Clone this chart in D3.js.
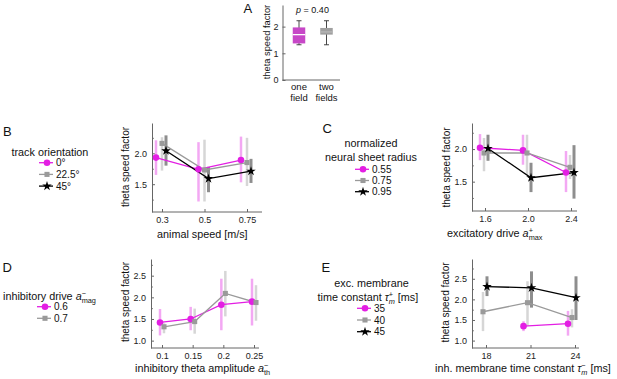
<!DOCTYPE html>
<html>
<head>
<meta charset="utf-8">
<script src="https://cdn.jsdelivr.net/npm/d3@7"></script>
<style>
body { margin: 0; background: #fff; }
text { font-family: "Liberation Sans", Arial, sans-serif; }
</style>
</head>
<body>
<script>
// ---- data ----
// A: box plots
const aCats = ["one field", "two fields"]
const aBoxLo = [1.32, 1.32]
const aQ1 = [1.37, 1.70]
const aMed = [1.70, 1.80]
const aQ3 = [1.97, 1.95]
const aBoxHi = [2.22, 2.22]

// B: track orientation
const bCats = ["0.3", "0.5", "0.75"]
const bNames = ["0°", "22.5°", "45°"]
const bMean0 = [1.93, 1.74, 1.89], bLo0 = [1.65, 1.22, 1.53], bHi0 = [2.21, 2.18, 2.27]
const bMean22 = [2.16, 1.73, 1.85], bLo22 = [1.72, 1.22, 1.47], bHi22 = [2.26, 2.22, 2.25]
const bMean45 = [2.04, 1.59, 1.71], bLo45 = [1.80, 1.37, 1.52], bHi45 = [2.29, 1.78, 1.91]

// C: neural sheet radius
const cCats = ["1.6", "2.0", "2.4"]
const cNames = ["0.55", "0.75", "0.95"]
const cMean55 = [2.02, 1.98, 1.64], cLo55 = [1.83, 1.76, 1.34], cHi55 = [2.23, 2.22, 1.97]
const cMean75 = [1.94, 1.94, 1.72], cLo75 = [1.66, 1.60, 1.54], cHi75 = [2.17, 2.22, 1.91]
const cMean95 = [2.01, 1.56, 1.64], cLo95 = [1.82, 1.34, 1.24], cHi95 = [2.22, 1.79, 2.06]

// D: inhibitory drive
const dCats = ["0.1", "0.15", "0.2", "0.25"]
const dNames = ["0.6", "0.7"]
const dMean6 = [1.42, 1.50, 1.83, 1.90], dLo6 = [1.12, 1.24, 1.24, 1.35], dHi6 = [1.73, 1.78, 2.43, 2.43]
const dMean7 = [1.32, 1.44, 2.09, 1.88], dLo7 = [1.17, 1.16, 1.56, 1.46], dHi7 = [1.40, 1.74, 2.61, 2.28]

// E: exc. membrane time constant
const eCats = ["18", "21", "24"]
const eNames = ["35", "40", "45"]
const eMean35 = [null, 1.35, 1.41], eLo35 = [null, 1.23, 1.12], eHi35 = [null, 1.47, 1.72]
const eMean40 = [1.70, 1.92, 1.56], eLo40 = [1.23, 1.36, 1.32], eHi40 = [2.18, 2.44, 1.76]
const eMean45 = [2.31, 2.28, 2.04], eLo45 = [2.08, 1.80, 1.50], eHi45 = [2.56, 2.68, 2.56]

// ---- styles ----
const MAG = "#e31ee3", MAGBAR = "#f3a8f3"
const GRY = "#9a9a9a", GRYBAR = "#d6d6d6"
const BLK = "#000", BLKBAR = "#8e8e8e"
const AX = "#666"

const svg = d3.select("body").append("svg")
  .attr("width", 617).attr("height", 379)

const shapes = { circle: d3.symbolCircle, square: d3.symbolSquare, star: d3.symbolStar }
const sizes = { circle: 34, square: 26, star: 28 }

// rich text helper: parts [{t, i, sup, sub}]
function rich(g, x, y, parts, size, anchor) {
  const t = g.append("text").attr("x", x).attr("y", y)
    .attr("font-size", size).attr("fill", "#111")
    .attr("text-anchor", anchor || "start")
  let shift = 0, lastSupW = 0
  parts.forEach(p => {
    const s = t.append("tspan").text(p.t)
    if (p.i) s.attr("font-style", "italic")
    let target = 0
    if (p.sup) { target = -0.38 * size; s.attr("font-size", size * 0.68) }
    if (p.sub) { target = 0.32 * size; s.attr("font-size", size * 0.68) }
    if (target !== shift) { s.attr("dy", target - shift); shift = target }
    if (p.sub && lastSupW) s.attr("dx", -lastSupW)
    lastSupW = p.sup ? s.node().getComputedTextLength() : 0
  })
  return t
}

function letter(x, y, l) {
  svg.append("text").attr("x", x).attr("y", y).attr("font-size", 13)
    .attr("fill", "#111").text(l)
}

function yTitle(x, y, size) {
  svg.append("text")
    .attr("transform", `translate(${x},${y}) rotate(-90)`)
    .attr("text-anchor", "middle").attr("dy", "0.35em")
    .attr("font-size", size).attr("fill", "#111")
    .text("theta speed factor")
}

function styleAxis(g) {
  g.select(".domain").attr("stroke", AX)
  g.selectAll(".tick line").attr("stroke", AX)
  g.selectAll(".tick text").attr("fill", "#222").attr("font-family", "Liberation Sans, Arial, sans-serif")
}

function linePanel(p) {
  const x = d3.scalePoint().domain(p.cats).range(p.pts)
  const y = d3.scaleLinear().domain(p.dom).range([p.bottom, p.top])
  const g = svg.append("g")

  // axes
  const ya = g.append("g").attr("transform", `translate(${p.left},0)`)
    .call(d3.axisLeft(y).tickValues(p.ticks).tickFormat(d3.format(".1f"))
      .tickSizeInner(-3).tickSizeOuter(0).tickPadding(5))
    .attr("font-size", 9)
  styleAxis(ya)
  const ym = g.append("g").attr("transform", `translate(${p.left},0)`)
    .call(d3.axisLeft(y).tickValues(p.minor).tickFormat("").tickSizeInner(-1.8).tickSizeOuter(0))
  ym.select(".domain").remove()
  ym.selectAll(".tick line").attr("stroke", AX)

  const xa = g.append("g").attr("transform", `translate(0,${p.bottom})`)
    .call(d3.axisBottom(x).tickSizeInner(-3).tickSizeOuter(0).tickPadding(5))
    .attr("font-size", 9)
  xa.select(".domain").remove()
  styleAxis(xa)
  g.append("line").attr("x1", p.left).attr("x2", p.right)
    .attr("y1", p.bottom).attr("y2", p.bottom).attr("stroke", AX)

  // error bars
  p.series.forEach(s => {
    const rows = p.cats.map((c, i) => ({ c, m: s.mean[i], lo: s.lo[i], hi: s.hi[i] }))
      .filter(d => d.m != null)
    s.rows = rows
    g.selectAll(null).data(rows).enter().append("line")
      .attr("x1", d => x(d.c) + s.off).attr("x2", d => x(d.c) + s.off)
      .attr("y1", d => y(d.lo)).attr("y2", d => y(d.hi))
      .attr("stroke", s.bar).attr("stroke-width", s.barW)
  })
  // lines
  p.series.forEach(s => {
    g.append("path").datum(s.rows)
      .attr("d", d3.line().x(d => x(d.c) + s.off).y(d => y(d.m)))
      .attr("fill", "none").attr("stroke", s.color).attr("stroke-width", 1.3)
  })
  // markers
  p.series.forEach(s => {
    g.selectAll(null).data(s.rows).enter().append("path")
      .attr("transform", d => `translate(${x(d.c) + s.off},${y(d.m)})`)
      .attr("d", d3.symbol(shapes[s.marker], sizes[s.marker]))
      .attr("fill", s.color)
  })

  // legend
  p.series.forEach((s, i) => {
    const ly = p.leg.y + i * p.leg.dy
    svg.append("line").attr("x1", p.leg.x).attr("x2", p.leg.x + 14)
      .attr("y1", ly).attr("y2", ly).attr("stroke", s.color).attr("stroke-width", 1.3)
    svg.append("path").attr("transform", `translate(${p.leg.x + 8},${ly})`)
      .attr("d", d3.symbol(shapes[s.marker], sizes[s.marker])).attr("fill", s.color)
    svg.append("text").attr("x", p.leg.x + 17).attr("y", ly + 3.5)
      .attr("font-size", 10).attr("fill", "#111").text(s.name)
  })
}

function mk(names, means, los, his, kinds, offs) {
  const sty = {
    m: { color: MAG, bar: MAGBAR, barW: 2.5, marker: "circle" },
    g: { color: GRY, bar: GRYBAR, barW: 2.5, marker: "square" },
    k: { color: BLK, bar: BLKBAR, barW: 3, marker: "star" }
  }
  return names.map((n, i) => Object.assign({ name: n, mean: means[i], lo: los[i], hi: his[i], off: offs[i] }, sty[kinds[i]]))
}

// ---- Panel A ----
{
  const x = d3.scalePoint().domain(aCats).range([299, 326.5])
  const y = d3.scaleLinear().domain([0, 2.81]).range([80, 5])
  const g = svg.append("g")
  const ya = g.append("g").attr("transform", "translate(282.5,0)")
    .call(d3.axisLeft(y).tickValues([0, 1, 2]).tickFormat(d3.format("d"))
      .tickSizeInner(-3).tickSizeOuter(0).tickPadding(4))
    .attr("font-size", 9)
  styleAxis(ya)
  g.append("line").attr("x1", 282.5).attr("x2", 340).attr("y1", 80).attr("y2", 80).attr("stroke", AX)
  const boxes = aCats.map((c, i) => ({ c, lo: aBoxLo[i], q1: aQ1[i], med: aMed[i], q3: aQ3[i], hi: aBoxHi[i] }))
  const fills = ["#c747c7", "#a0a0a0"]
  const bw = 12.5
  boxes.forEach((b, i) => {
    const cx = x(b.c)
    g.append("line").attr("x1", cx).attr("x2", cx).attr("y1", y(b.lo)).attr("y2", y(b.hi))
      .attr("stroke", "#333").attr("stroke-width", 0.9)
    ;[b.lo, b.hi].forEach(v => g.append("line").attr("x1", cx - 2.5).attr("x2", cx + 2.5)
      .attr("y1", y(v)).attr("y2", y(v)).attr("stroke", "#333").attr("stroke-width", 0.9))
    g.append("rect").attr("x", cx - bw / 2).attr("width", bw)
      .attr("y", y(b.q3)).attr("height", y(b.q1) - y(b.q3)).attr("fill", fills[i])
    g.append("line").attr("x1", cx - bw / 2).attr("x2", cx + bw / 2)
      .attr("y1", y(b.med)).attr("y2", y(b.med))
      .attr("stroke", i === 0 ? "#fff" : "#b8b8b8").attr("stroke-width", 1.3)
    const words = b.c.split(" ")
    words.forEach((w, k) => g.append("text").attr("x", cx).attr("y", 90 + k * 11)
      .attr("text-anchor", "middle").attr("font-size", 9.5).attr("fill", "#111").text(w))
  })
  rich(svg, 312.5, 13, [{ t: "p", i: true }, { t: " = 0.40" }], 9, "middle")
  letter(243.5, 12.5, "A")
  yTitle(267, 42, 9.3)
}

// ---- Panel B ----
linePanel({
  cats: bCats, pts: [162, 247], left: 152, right: 262, top: 123, bottom: 212,
  dom: [1.05, 2.49], ticks: [1.5, 2.0], minor: [1.25, 1.75, 2.25],
  series: mk(bNames, [bMean0, bMean22, bMean45], [bLo0, bLo22, bLo45], [bHi0, bHi22, bHi45], ["m", "g", "k"], [-6, 0, 4]),
  leg: { x: 39, y: 162.7, dy: 11.7 }
})
letter(3, 135.5, "B")
yTitle(125, 167, 10)
svg.append("text").attr("x", 11.5).attr("y", 155.5).attr("font-size", 10.8).attr("fill", "#111").text("track orientation")
svg.append("text").attr("x", 157).attr("y", 238).attr("font-size", 10.8).attr("fill", "#111").text("animal speed [m/s]")

// ---- Panel C ----
linePanel({
  cats: cCats, pts: [485, 571], left: 472, right: 577, top: 123, bottom: 211,
  dom: [1.05, 2.40], ticks: [1.5, 2.0], minor: [1.25, 1.75, 2.25],
  series: mk(cNames, [cMean55, cMean75, cMean95], [cLo55, cLo75, cLo95], [cHi55, cHi75, cHi95], ["m", "g", "k"], [-5, -1, 3]),
  leg: { x: 355, y: 169.3, dy: 11.2 }
})
letter(322.5, 133, "C")
yTitle(446.5, 167.5, 10)
svg.append("text").attr("x", 371).attr("y", 147).attr("text-anchor", "middle").attr("font-size", 10.8).attr("fill", "#111").text("normalized")
svg.append("text").attr("x", 371).attr("y", 160.5).attr("text-anchor", "middle").attr("font-size", 10.8).attr("fill", "#111").text("neural sheet radius")
rich(svg, 447, 237, [{ t: "excitatory drive " }, { t: "a", i: true }, { t: "+", sup: true }, { t: "max", sub: true }], 10.8)

// ---- Panel D ----
linePanel({
  cats: dCats, pts: [162, 254], left: 151, right: 259, top: 259, bottom: 348,
  dom: [0.83, 2.885], ticks: [1.0, 1.5, 2.0, 2.5], minor: [1.25, 1.75, 2.25, 2.75],
  series: mk(dNames, [dMean6, dMean7], [dLo6, dLo7], [dHi6, dHi7], ["m", "g"], [-2, 2]),
  leg: { x: 37, y: 306.7, dy: 11.6 }
})
letter(2.5, 271.5, "D")
yTitle(125, 302, 10)
rich(svg, 3, 300, [{ t: "inhibitory drive " }, { t: "a", i: true }, { t: "−", sup: true }, { t: "mag", sub: true }], 10.8)
rich(svg, 135, 372, [{ t: "inhibitory theta amplitude " }, { t: "a", i: true }, { t: "−", sup: true }, { t: "th", sub: true }], 10.8)

// ---- Panel E ----
linePanel({
  cats: eCats, pts: [486, 575], left: 472, right: 579, top: 259, bottom: 348,
  dom: [0.82, 2.98], ticks: [1.0, 1.5, 2.0, 2.5], minor: [1.25, 1.75, 2.25, 2.75],
  series: mk(eNames, [eMean35, eMean40, eMean45], [eLo35, eLo40, eLo45], [eHi35, eHi40, eHi45], ["m", "g", "k"], [-7, -3, 1]),
  leg: { x: 357, y: 308.3, dy: 11.7 }
})
letter(321.5, 271.5, "E")
yTitle(445, 302.5, 10)
svg.append("text").attr("x", 371.5).attr("y", 287).attr("text-anchor", "middle").attr("font-size", 10.8).attr("fill", "#111").text("exc. membrane")
rich(svg, 317.5, 301, [{ t: "time constant " }, { t: "τ", i: true }, { t: "+", sup: true }, { t: "m", sub: true, i: true }, { t: " [ms]" }], 10.8)
rich(svg, 435, 372, [{ t: "inh. membrane time constant " }, { t: "τ", i: true }, { t: "−", sup: true }, { t: "m", sub: true, i: true }, { t: " [ms]" }], 10.8)
</script>
</body>
</html>
